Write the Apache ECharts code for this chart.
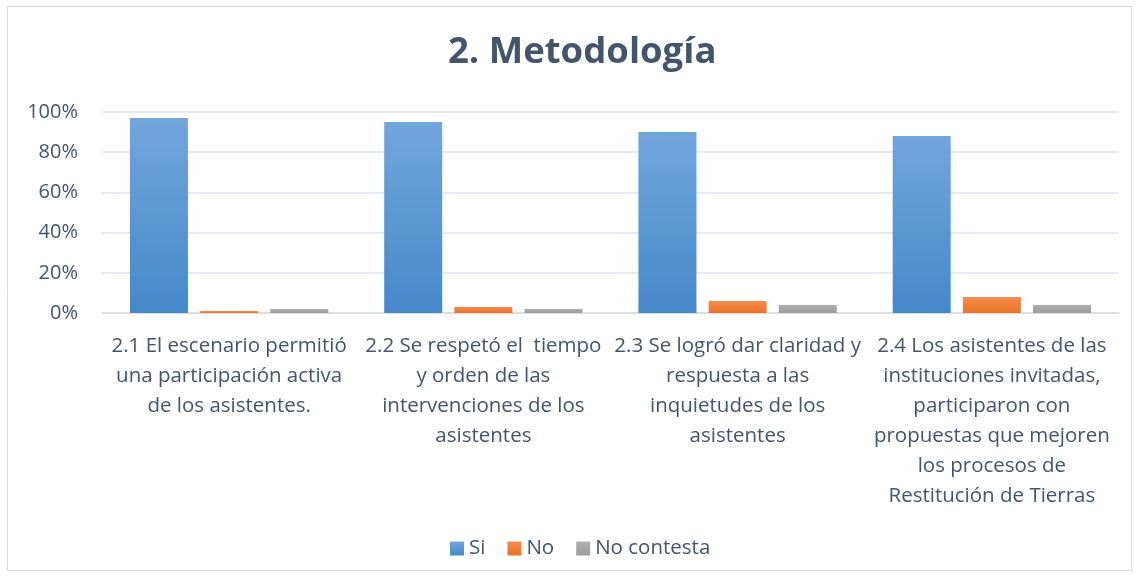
<!DOCTYPE html>
<html>
<head>
<meta charset="utf-8">
<script src="https://cdn.jsdelivr.net/npm/echarts@6/dist/echarts.min.js"></script>
<style>
  html, body { margin: 0; padding: 0; background: #fff; }
  #chart { width: 1139px; height: 577px; }
</style>
</head>
<body>
<div id="chart"></div>
<script>
// categorías (con saltos de línea como en el original)
const categories = [
  '2.1 El escenario permitió\nuna participación activa\nde los asistentes.',
  '2.2 Se respetó el  tiempo\ny orden de las\nintervenciones de los\nasistentes',
  '2.3 Se logró dar claridad y\nrespuesta a las\ninquietudes de los\nasistentes',
  '2.4 Los asistentes de las\ninstituciones invitadas,\nparticiparon con\npropuestas que mejoren\nlos procesos de\nRestitución de Tierras'
]
const siValues = [97, 95, 90, 88]
const noValues = [1, 3, 6, 8]
const noContestaValues = [2, 2, 4, 4]
const yTicks = [0, 20, 40, 60, 80, 100]

const textColor = '#44546a'
const font = 'Open Sans'

function grad (top, bottom) {
  return new echarts.graphic.LinearGradient(0, 0, 0, 1, [
    { offset: 0, color: top },
    { offset: 1, color: bottom }
  ])
}

const chart = echarts.init(document.getElementById('chart'))
const option = {
  animation: false,
  textStyle: { fontFamily: font },
  title: {
    text: '2. Metodología',
    left: 443,
    top: 29,
    textStyle: { fontSize: 36.5, fontWeight: 'bold', color: textColor, fontFamily: font }
  },
  graphic: [{
    type: 'rect',
    shape: { x: 7.5, y: 6.5, width: 1124, height: 564 },
    style: { fill: 'none', stroke: '#d9d9d9', lineWidth: 1 },
    silent: true,
    z: -10
  }],
  legend: {
    top: 533,
    left: 445,
    itemWidth: 14,
    itemHeight: 14,
    itemGap: 22,
    icon: 'rect',
    textStyle: { fontSize: 20.5, color: textColor, fontFamily: font },
    data: ['Si', 'No', 'No contesta']
  },
  grid: { left: 102, right: 20, top: 112, bottom: 264, containLabel: false },
  xAxis: {
    type: 'category',
    data: categories,
    axisLine: { lineStyle: { color: '#d9d9d9', width: 1.5 } },
    axisTick: { show: false },
    axisLabel: {
      interval: 0,
      margin: 18,
      fontSize: 20.5,
      lineHeight: 30,
      color: textColor,
      fontFamily: font,
      align: 'center'
    }
  },
  yAxis: {
    type: 'value',
    min: 0,
    max: 100,
    interval: 20,
    axisLine: { show: false },
    axisTick: { show: false },
    splitLine: { lineStyle: { color: '#dfe3e8', width: 1.5 } },
    axisLabel: {
      fontSize: 20,
      color: textColor,
      fontFamily: font,
      margin: 24,
      formatter: v => yTicks.includes(v) ? v + '%' : ''
    }
  },
  series: [
    {
      name: 'Si',
      type: 'bar',
      data: siValues,
      barWidth: 58,
      barGap: '21%',
      itemStyle: { color: grad('#71a6dc', '#4589cb') }
    },
    {
      name: 'No',
      type: 'bar',
      data: noValues,
      barWidth: 58,
      barGap: '21%',
      itemStyle: { color: grad('#f28c50', '#ec7124') }
    },
    {
      name: 'No contesta',
      type: 'bar',
      data: noContestaValues,
      barWidth: 58,
      barGap: '21%',
      itemStyle: { color: grad('#afafaf', '#9c9c9c') }
    }
  ]
}
chart.setOption(option)
</script>
</body>
</html>
